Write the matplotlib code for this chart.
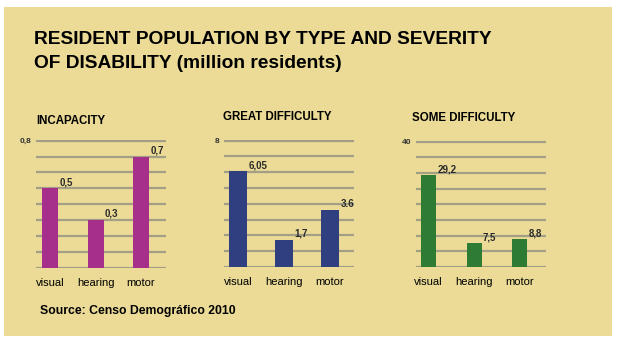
import matplotlib.pyplot as plt
import numpy as np
from matplotlib.patches import Rectangle

W, H = 619, 344

categories = ['visual', 'hearing', 'motor']
titles = ['INCAPACITY', 'GREAT DIFFICULTY', 'SOME DIFFICULTY']
incapacity = [0.5, 0.3, 0.7]
great_difficulty = [6.05, 1.7, 3.6]
some_difficulty = [29.2, 7.5, 8.8]
value_labels = [['0,5', '0,3', '0,7'],
                ['6,05', '1,7', '3.6'],
                ['29,2', '7,5', '8,8']]
axis_tops = [0.8, 8, 40]
top_labels = ['0,8', '8', '40']
colors = ['#A62F8C', '#2F3F80', '#2E7B33']

plain = ['Liberation Sans', 'DejaVu Sans']


def fx(px):
    return px / W


def fy(py):
    return 1 - py / H


fig = plt.figure(figsize=(W / 100, H / 100), dpi=100, facecolor='white')
fig.patches.append(Rectangle((fx(4), fy(336)), fx(608), (336 - 7) / H,
                             transform=fig.transFigure, facecolor='#EBDB96',
                             edgecolor='none', zorder=-5))

fig.text(fx(34), fy(40), 'RESIDENT POPULATION BY TYPE AND SEVERITY',
         family=plain, weight='bold', fontsize=13.8, va='center')
fig.text(fx(34), fy(63), 'OF DISABILITY (million residents)',
         family=plain, weight='bold', fontsize=13.8, va='center')
fig.text(fx(40), fy(311), 'Source: Censo Demográfico 2010',
         family=plain, weight='bold', fontsize=8.8, va='center')

# axes boxes in pixels: left, right, top, bottom
boxes = [(36, 166, 140, 268), (224, 354, 140, 267), (416, 546, 141, 267)]
title_pos = [(36, 121), (223, 117), (412, 118)]
widths = [0.35, 0.39, 0.33]
xlims = [(-0.31, 2.55), (-0.3, 2.52), (-0.27, 2.57)]
series = [incapacity, great_difficulty, some_difficulty]

for i in range(3):
    l, r, t, b = boxes[i]
    ax = fig.add_axes([fx(l), fy(b), (r - l) / W, (b - t) / H])
    ax.set_facecolor('none')
    x = np.arange(len(categories))
    ax.bar(x, series[i], width=widths[i], color=colors[i], zorder=3)
    levels = np.linspace(0, axis_tops[i], 9)
    ax.set_yticks(levels)
    ax.set_yticklabels([''] * 8 + [top_labels[i]], family=plain,
                       weight='bold', fontsize=6, color='#333333')
    for lv in levels:
        ax.axhline(lv, color='#A39F86', lw=1.6, zorder=1)
    ax.set_ylim(0, axis_tops[i] * 1.005)
    ax.set_xlim(*xlims[i])
    ax.set_xticks(x)
    ax.set_xticklabels(categories, family=plain, fontsize=8)
    ax.tick_params(length=0, pad=7)
    ax.tick_params(axis='y', pad=3)
    for s in ax.spines.values():
        s.set_visible(False)
    for xi, v, lab in zip(x, series[i], value_labels[i]):
        ax.annotate(lab, (xi + widths[i] / 2, v), xytext=(1, 1),
                    textcoords='offset points', ha='left', va='bottom',
                    family=plain, weight='bold', fontsize=7, color='#2a2a2a')
    tx, ty = title_pos[i]
    fig.text(fx(tx), fy(ty), titles[i], family=plain, weight='bold',
             fontsize=8.3, va='center')

fig.savefig('out.png', dpi=100, facecolor='white')
